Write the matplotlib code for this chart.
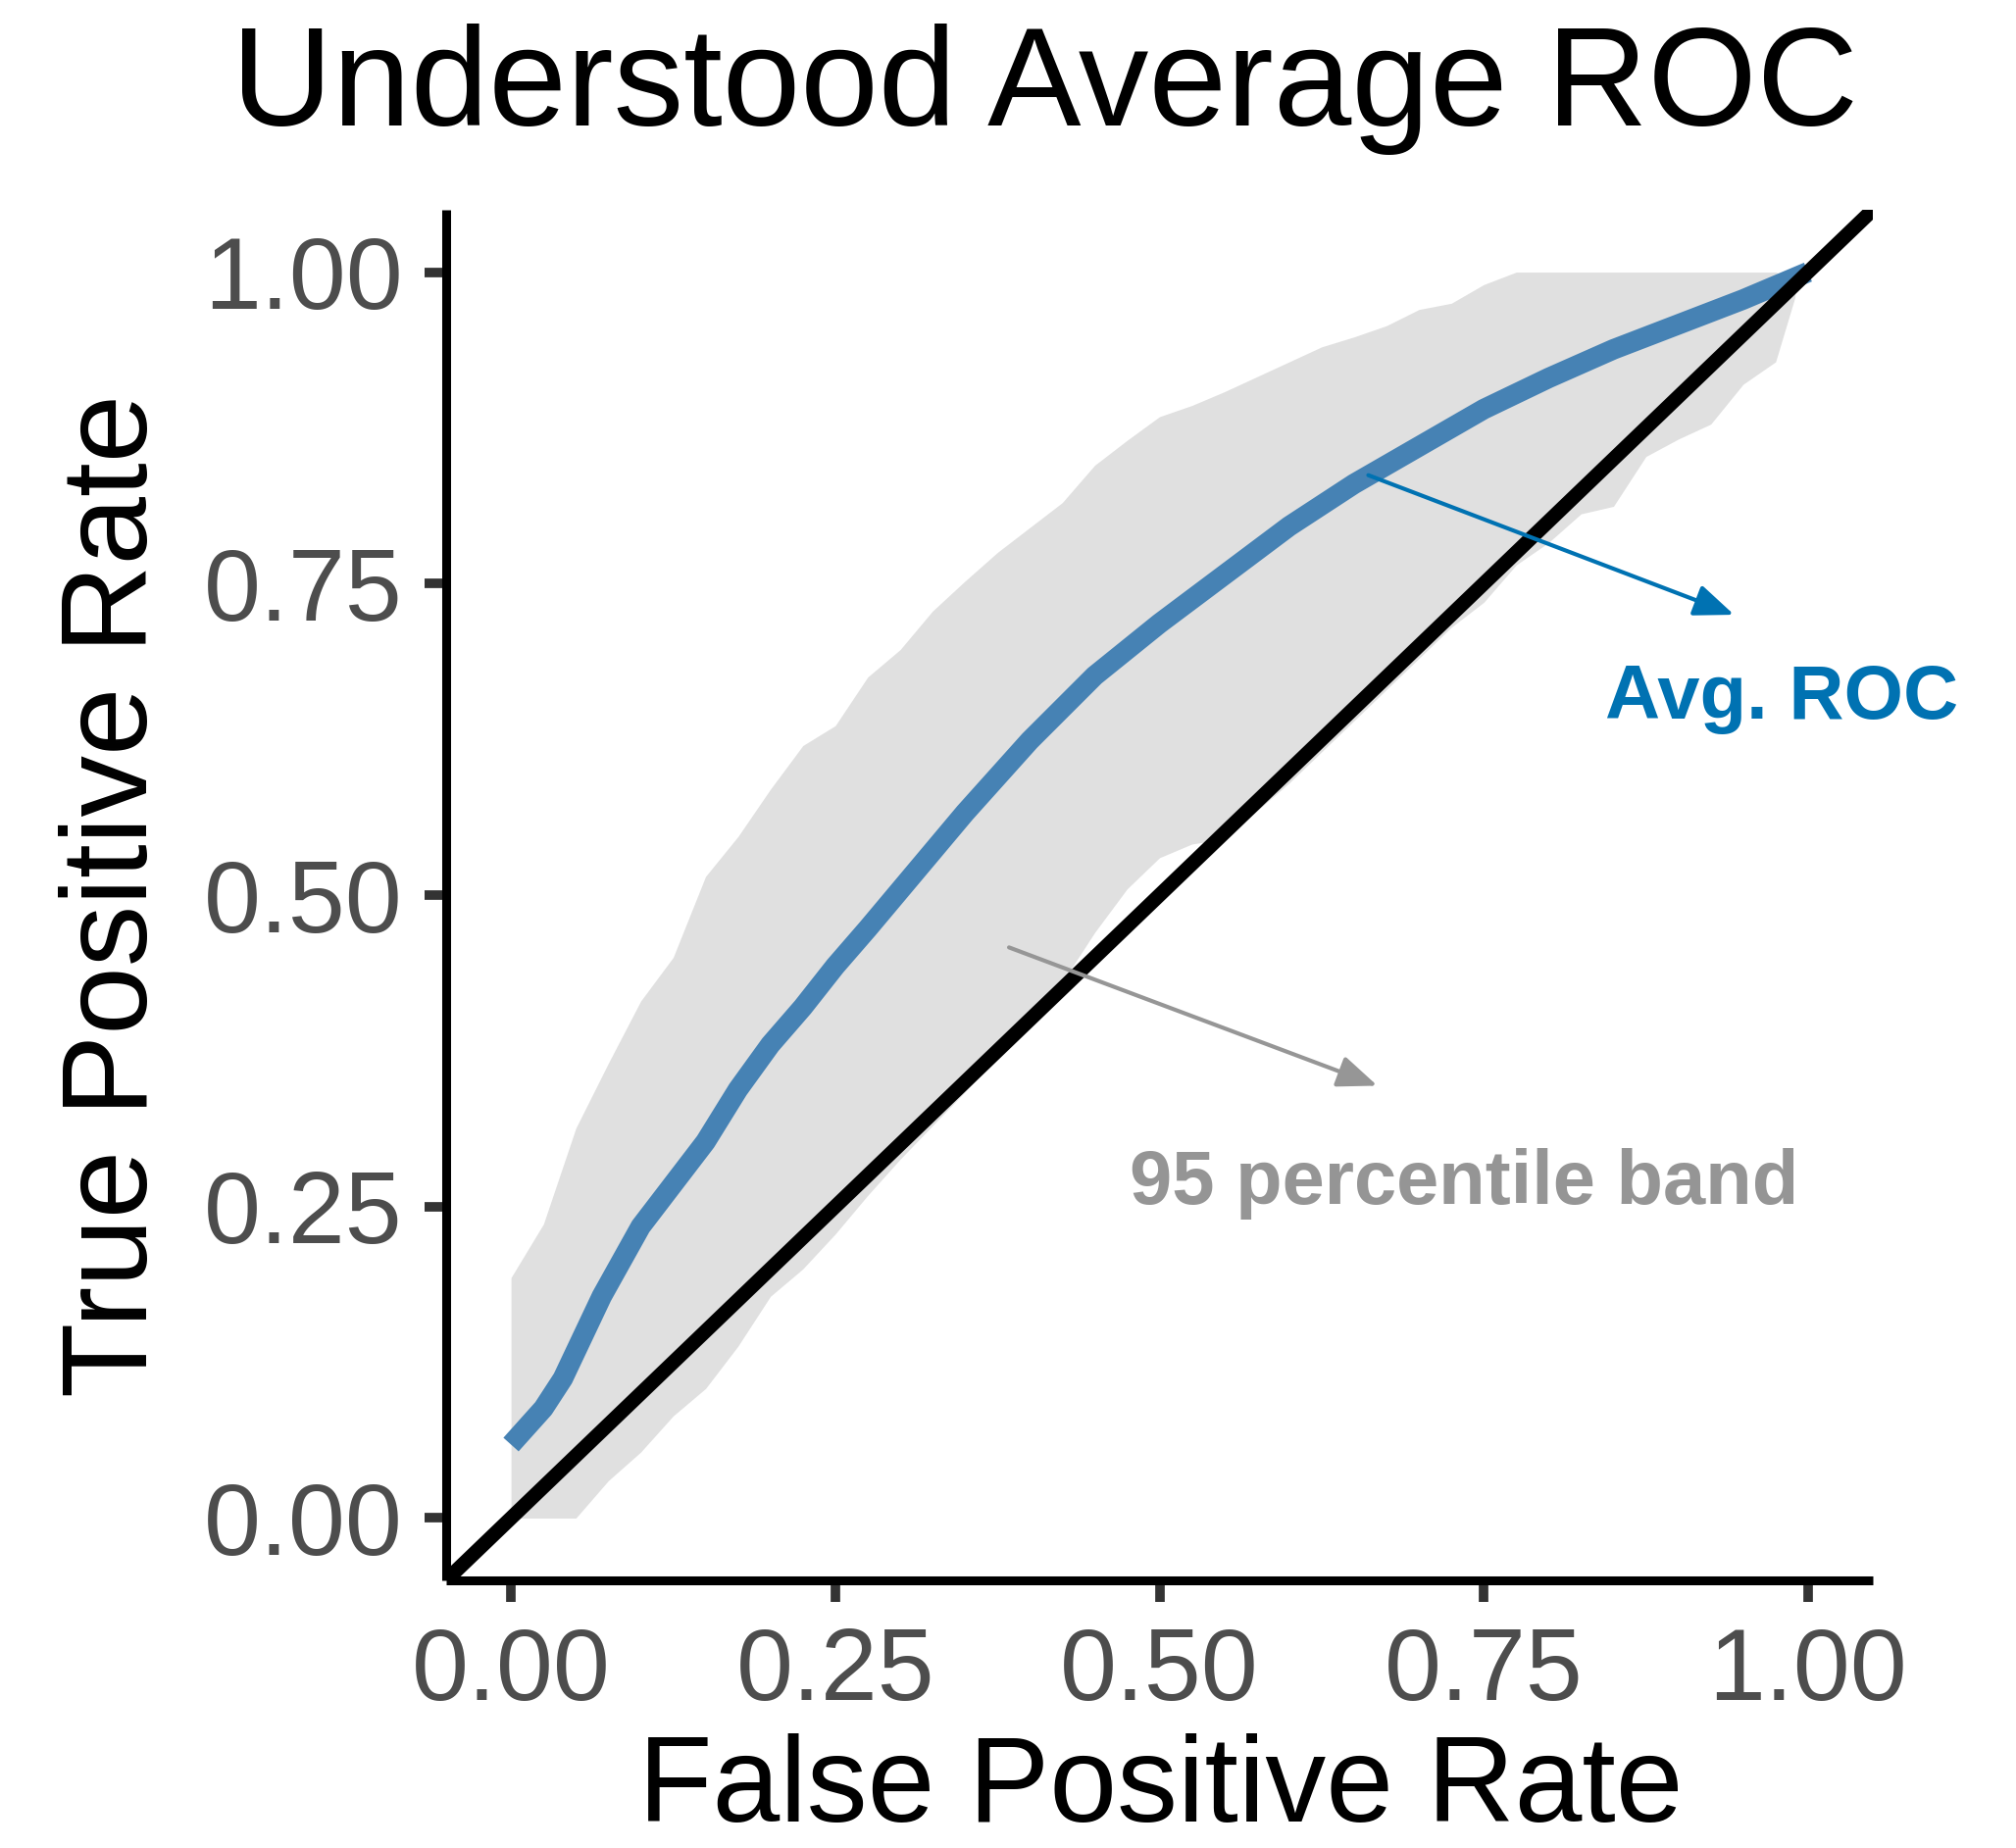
import matplotlib
matplotlib.use("Agg")
import matplotlib.pyplot as plt

plt.rcParams['font.family'] = ['Liberation Sans', 'DejaVu Sans']

# Average ROC curve
roc_fpr = [0, 0.025, 0.04, 0.07, 0.1, 0.125, 0.15, 0.175, 0.2, 0.225, 0.25, 0.275, 0.3,
           0.35, 0.4, 0.45, 0.5, 0.55, 0.6, 0.65, 0.7, 0.75, 0.8, 0.85, 0.9, 0.95, 1.0]
roc_tpr = [0.059, 0.088, 0.112, 0.178, 0.234, 0.268, 0.302, 0.344, 0.38, 0.41, 0.443, 0.473, 0.504,
           0.566, 0.624, 0.676, 0.718, 0.757, 0.796, 0.83, 0.86, 0.89, 0.915, 0.938, 0.958, 0.978, 1.0]

# 95 percentile band
band_fpr = [0, 0.025, 0.05, 0.075, 0.1, 0.125, 0.15, 0.175, 0.2, 0.225, 0.25, 0.275, 0.3,
            0.325, 0.35, 0.375, 0.4, 0.425, 0.45, 0.475, 0.5, 0.525, 0.55, 0.6, 0.625, 0.65,
            0.675, 0.7, 0.725, 0.75, 0.775, 0.8, 0.825, 0.85, 0.875, 0.9, 0.925, 0.95, 0.975, 0.99]
band_upper = [0.193, 0.236, 0.313, 0.365, 0.415, 0.45, 0.515, 0.547, 0.585, 0.62, 0.636, 0.675, 0.697,
              0.728, 0.752, 0.775, 0.795, 0.815, 0.845, 0.865, 0.884, 0.893, 0.904, 0.928, 0.94, 0.948,
              0.957, 0.97, 0.975, 0.99, 1.0, 1.0, 1.0, 1.0, 1.0, 1.0, 1.0, 1.0, 1.0, 0.995]
band_lower = [0, 0, 0, 0.03, 0.053, 0.082, 0.104, 0.138, 0.178, 0.2, 0.228, 0.259, 0.288,
              0.315, 0.342, 0.37, 0.397, 0.43, 0.47, 0.505, 0.53, 0.541, 0.545, 0.59, 0.615, 0.64,
              0.665, 0.69, 0.715, 0.735, 0.765, 0.783, 0.806, 0.812, 0.852, 0.866, 0.878, 0.91, 0.928, 0.98]

ticks = [0.0, 0.25, 0.5, 0.75, 1.0]
tick_labels = ["0.00", "0.25", "0.50", "0.75", "1.00"]

W, H = 2056, 1885
fig = plt.figure(figsize=(W / 100, H / 100), dpi=100)
ax = fig.add_axes([455 / W, 1 - 1612 / H, (1910 - 455) / W, (1612 - 214) / H])

ax.fill_between(band_fpr, band_lower, band_upper, color='#E0E0E0', lw=0, zorder=1)
ax.plot(roc_fpr, roc_tpr, color='#4682B4', lw=15, solid_capstyle='butt',
        solid_joinstyle='round', zorder=2)
ax.axline((0, 0), slope=1, color='black', lw=10.5, zorder=3)

ax.set_xlim(-0.05, 1.05)
ax.set_ylim(-0.05, 1.05)
ax.set_xticks(ticks)
ax.set_xticklabels(tick_labels)
ax.set_yticks(ticks)
ax.set_yticklabels(tick_labels)

for side in ['top', 'right']:
    ax.spines[side].set_visible(False)
for side in ['left', 'bottom']:
    ax.spines[side].set_linewidth(6.5)
    ax.spines[side].set_color('black')
    ax.spines[side].set_capstyle('butt')

ax.tick_params(axis='both', length=15.8, width=7, color='#333333',
               labelsize=75, labelcolor='#4D4D4D')
ax.tick_params(axis='x', pad=18)
ax.tick_params(axis='y', pad=16)

# Annotations
ax.annotate("", xy=(0.943, 0.725), xytext=(0.661, 0.837),
            arrowprops=dict(arrowstyle='-|>,head_length=0.55,head_width=0.22', color='#0072B2',
                            lw=3, mutation_scale=45, shrinkA=0, shrinkB=0), zorder=5)
ax.text(0.98, 0.642, "Avg. ROC", color='#0072B2', fontsize=56, fontweight='bold',
        ha='center', va='baseline', zorder=5)

ax.annotate("", xy=(0.668, 0.347), xytext=(0.384, 0.458),
            arrowprops=dict(arrowstyle='-|>,head_length=0.55,head_width=0.22', color='#969696',
                            lw=3, mutation_scale=45, shrinkA=0, shrinkB=0), zorder=5)
ax.text(0.735, 0.252, "95 percentile band", color='#959595', fontsize=56, fontweight='bold',
        ha='center', va='baseline', zorder=5)

# Titles
fig.text(1066 / W, 1 - 128 / H, "Understood Average ROC", fontsize=103,
         ha='center', va='baseline', color='black')
fig.text(1184 / W, 1 - 1858 / H, "False Positive Rate", fontsize=89,
         ha='center', va='baseline', color='black')
fig.text(150 / W, 1 - 913 / H, "True Positive Rate", fontsize=90, rotation=90,
         rotation_mode='anchor', ha='center', va='baseline', color='black')

fig.savefig("out.png", dpi=100)
plt.close(fig)
